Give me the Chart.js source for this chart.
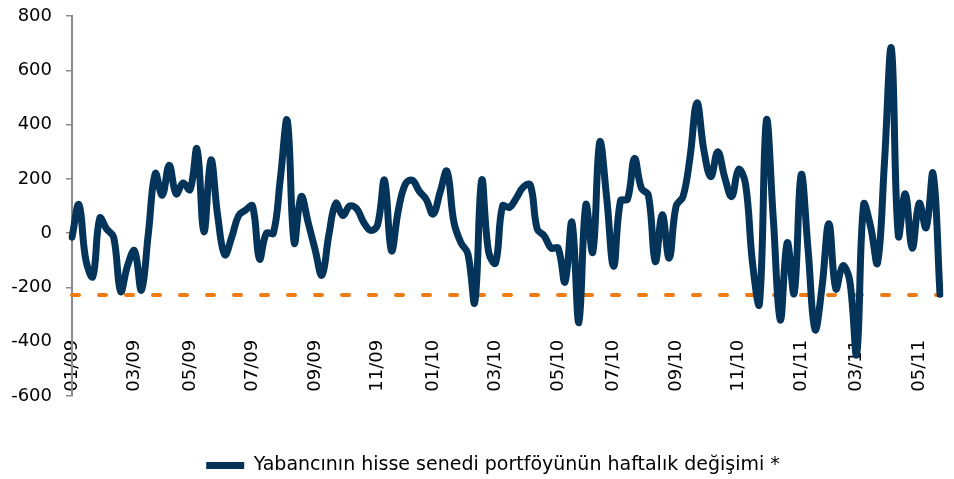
<!DOCTYPE html>
<html>
<head>
<meta charset="utf-8">
<script src="https://cdn.jsdelivr.net/npm/chart.js@4.4.1/dist/chart.umd.min.js"></script>
<style>
  html, body { margin: 0; padding: 0; background: #fff; }
</style>
</head>
<body>
<canvas id="chart" width="954" height="479"></canvas>
<script>
// Weekly change of foreign equity portfolio, Jan 2009 - Jun 2011
const weeklyChange = [
  -15, 105, -100, -160, 55, 15, -15, -215, -120, -65,
  -210, 0, 220, 140, 250, 145, 185, 160, 310, 5,
  270, 60, -80, -15, 65, 85, 100, -95, 0, 0,
  200, 415, -35, 135, 40, -60, -155, -5, 110, 65,
  100, 90, 40, 10, 30, 195, -65, 85, 180, 195,
  155, 125, 70, 150, 228, 40, -35, -75, -255, 195,
  -70, -110, 100, 95, 130, 170, 178, 15, -10, -55,
  -55, -180, 40, -330, 105, -70, 335, 130, -122, 120,
  125, 275, 165, 140, -105, 68, -92, 100, 135, 280,
  480, 305, 208, 300, 205, 135, 235, 180, -110, -260,
  415, 50, -320, -35, -222, 215, -60, -355, -200, 35,
  -205, -120, -175, -445, 105, 25, -110, 260, 680, -10,
  145, -55, 110, 20, 220, -225
];
const thresholdLevel = -228;
const seriesName = 'Yabancının hisse senedi portföyünün haftalık değişimi *';

const tickLabels = ['01/09', '03/09', '05/09', '07/09', '09/09', '11/09', '01/10', '03/10',
                    '05/10', '07/10', '09/10', '11/10', '01/11', '03/11', '05/11'];
const tickWeeks = [0, 9, 17, 26, 35, 44, 52, 61, 70, 78, 87, 96, 105, 113, 122];

// one category per week, starting 2 Jan 2009
const weeks = weeklyChange.map((_, i) => new Date(Date.UTC(2009, 0, 2 + 7 * i)).toISOString().slice(0, 10));
const thresholdLine = weeks.map(() => thresholdLevel);

Chart.defaults.font.family = "'DejaVu Sans', sans-serif";
Chart.defaults.font.size = 18;
Chart.defaults.color = '#000';

const noPadding = scale => {
  scale.paddingLeft = 0; scale.paddingRight = 0;
  scale.paddingTop = 0; scale.paddingBottom = 0;
};

// legend sits a little right of centre in the original
const legendShift = {
  id: 'legendShift',
  afterLayout(chart) {
    chart.legend.left += 23;
    chart.legend.right += 23;
  }
};

new Chart(document.getElementById('chart'), {
  type: 'line',
  data: {
    labels: weeks,
    datasets: [
      {
        label: seriesName,
        data: weeklyChange,
        borderColor: '#04345A',
        backgroundColor: '#04345A',
        borderWidth: 7,
        borderCapStyle: 'round',
        borderJoinStyle: 'round',
        pointRadius: 0,
        pointStyle: 'line',
        tension: 0.4
      },
      {
        label: 'threshold',
        data: thresholdLine,
        borderColor: '#EE7A12',
        borderWidth: 4,
        borderDash: [7, 20],
        borderCapStyle: 'round',
        pointRadius: 0,
        tension: 0
      }
    ]
  },
  options: {
    responsive: false,
    animation: false,
    layout: { padding: { left: 0, right: 14, top: 16, bottom: -6 } },
    plugins: {
      tooltip: { enabled: false },
      legend: {
        position: 'bottom',
        labels: {
          filter: item => item.datasetIndex === 0,
          usePointStyle: true,
          pointStyleWidth: 38,
          padding: 60,
          font: { size: 19 },
          color: '#000'
        }
      }
    },
    scales: {
      x: {
        position: { y: -393 },
        afterFit: noPadding,
        grid: { display: false, drawTicks: false },
        border: { display: false },
        ticks: {
          autoSkip: false,
          minRotation: 90,
          maxRotation: 90,
          padding: 0,
          callback: (value, index) => {
            const k = tickWeeks.indexOf(index);
            return k >= 0 ? tickLabels[k] : '';
          }
        }
      },
      y: {
        min: -600,
        max: 800,
        afterFit: scale => { scale.width = 72; noPadding(scale); },
        ticks: { stepSize: 200, padding: 14 },
        grid: { drawOnChartArea: false, drawTicks: true, tickLength: 6, color: '#8a8a8a', lineWidth: 1.5 },
        border: { display: true, color: '#8a8a8a', width: 2 }
      }
    }
  },
  plugins: [legendShift]
});
</script>
</body>
</html>
